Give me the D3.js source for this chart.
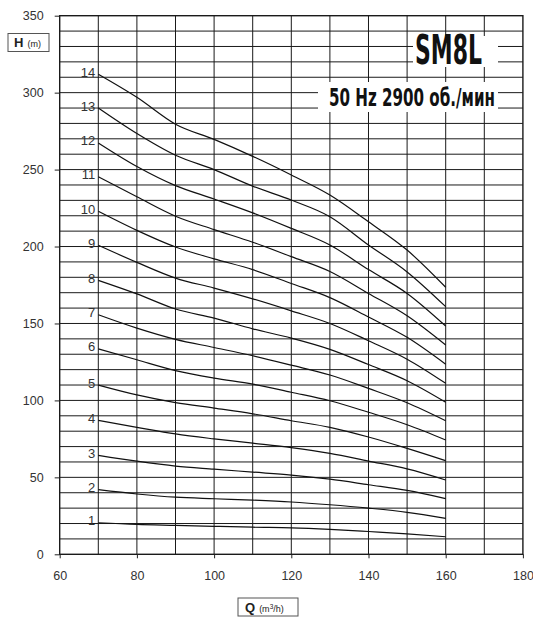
<!DOCTYPE html>
<html>
<head>
<meta charset="utf-8">
<script src="https://cdn.jsdelivr.net/npm/d3@7"></script>
<style>
  body { margin: 0; background: #fff; }
  .tick text { font-family: "Liberation Sans", Arial, sans-serif; font-size: 12.5px; fill: #333; }
  .tick line { stroke: #222; }
</style>
</head>
<body>
<div class="chart"></div>
<script>
// flow points (m3/h)
var flows = [70, 80, 90, 100, 110, 120, 130, 140, 150, 160];

// head (m) per number of stages
var stage1 = [20.5, 19.4, 18.8, 18.2, 17.6, 17.2, 16.2, 14.8, 13.3, 11.4];
var stage2 = [42, 39.2, 37.1, 36.1, 35.2, 34.0, 32.2, 30.0, 27.3, 23.4];
var stage3 = [64.3, 60.5, 57.3, 55.3, 53.4, 51.5, 48.8, 45.2, 41.5, 36.2];
var stage4 = [87, 82.5, 78.2, 75.0, 72.2, 69.3, 65.6, 60.6, 55.5, 48.3];
var stage5 = [110, 103.6, 98.6, 95.0, 91.3, 86.8, 82.5, 76.2, 68.8, 60.8];
var stage6 = [133.5, 126.4, 119.4, 114.5, 110.6, 105.3, 99.8, 92.3, 84.2, 74.3];
var stage7 = [155.7, 147, 139.7, 134.4, 129, 122.9, 116.5, 107.8, 98.5, 86.8];
var stage8 = [178, 169.2, 159.4, 153.5, 146.5, 140.5, 133.2, 123.3, 112.8, 98.8];
var stage9 = [200.8, 189.7, 179.5, 173, 166, 158.2, 150, 138.8, 126.8, 111.1];
var stage10 = [222.9, 210.5, 199.7, 192, 185, 176, 166.8, 154.2, 141, 123.5];
var stage11 = [245.3, 232.3, 219.7, 211, 202.8, 193.4, 183.8, 169.5, 155, 136];
var stage12 = [267.3, 252, 239.6, 230.9, 221.9, 211.8, 201, 185, 169.5, 148.3];
var stage13 = [290, 273.4, 259.3, 250, 239.2, 230.2, 219.4, 201, 183.5, 160.9];
var stage14 = [312, 297, 279.5, 269.6, 258.6, 246.5, 233.5, 216.1, 197.7, 173.5];

var curveLabels = ['1', '2', '3', '4', '5', '6', '7', '8', '9', '10', '11', '12', '13', '14'];
var curves = [stage1, stage2, stage3, stage4, stage5, stage6, stage7,
	stage8, stage9, stage10, stage11, stage12, stage13, stage14];

var xTicks = [60, 80, 100, 120, 140, 160, 180];
var yTicks = [0, 50, 100, 150, 200, 250, 300, 350];

// set up chart size
var svgWidth = 533;
var svgHeight = 621;

var margin = {
	top: 15.7,
	bottom: 66.7,
	right: 10.1,
	left: 59.7
};

var width = svgWidth - margin.left - margin.right;
var height = svgHeight - margin.top - margin.bottom;

var svg = d3
	.select('.chart')
	.append('svg')
	.attr('width', svgWidth)
	.attr('height', svgHeight)
	.style('font-family', '"Liberation Sans", Arial, sans-serif');

var chart = svg.append('g')
	.attr('transform', `translate(${margin.left}, ${margin.top})`);

// scales
var xScale = d3.scaleLinear().domain([60, 180]).range([0, width]);
var yScale = d3.scaleLinear().domain([0, 350]).range([height, 0]);

// grid every 10 units
chart.append('g')
	.selectAll('line')
	.data(d3.range(70, 180, 10))
	.enter()
	.append('line')
	.attr('x1', function(d) { return xScale(d); })
	.attr('x2', function(d) { return xScale(d); })
	.attr('y1', 0)
	.attr('y2', height)
	.attr('stroke', '#1a1a1a')
	.attr('stroke-width', 1);

chart.append('g')
	.selectAll('line')
	.data(d3.range(10, 350, 10))
	.enter()
	.append('line')
	.attr('x1', 0)
	.attr('x2', width)
	.attr('y1', function(d) { return yScale(d); })
	.attr('y2', function(d) { return yScale(d); })
	.attr('stroke', '#1a1a1a')
	.attr('stroke-width', 1);

// white boxes behind the titles
chart.append('rect')
	.attr('x', 413 - margin.left)
	.attr('y', 36 - margin.top)
	.attr('width', 85)
	.attr('height', 31)
	.attr('fill', '#fff');

chart.append('rect')
	.attr('x', 318 - margin.left)
	.attr('y', 82 - margin.top)
	.attr('width', 180)
	.attr('height', 30)
	.attr('fill', '#fff');

// frame
chart.append('rect')
	.attr('width', width)
	.attr('height', height)
	.attr('fill', 'none')
	.attr('stroke', '#1a1a1a')
	.attr('stroke-width', 1.4);

// axes
var bottomAxis = d3.axisBottom(xScale).tickValues(xTicks).tickSize(4).tickPadding(13);
var leftAxis = d3.axisLeft(yScale).tickValues(yTicks).tickSize(5).tickPadding(11);

chart.append('g')
	.attr('transform', `translate(0, ${height})`)
	.call(bottomAxis)
	.call(function(g) { g.select('.domain').remove(); });

chart.append('g')
	.call(leftAxis)
	.call(function(g) { g.select('.domain').remove(); });

// performance curves
var line = d3.line()
	.x(function(d, i) { return xScale(flows[i]); })
	.y(function(d) { return yScale(d); })
	.curve(d3.curveMonotoneX);

chart.append('g')
	.selectAll('path')
	.data(curves)
	.enter()
	.append('path')
	.attr('d', line)
	.attr('fill', 'none')
	.attr('stroke', '#111')
	.attr('stroke-width', 1.2);

// stage numbers at the start of each curve
chart.append('g')
	.selectAll('text')
	.data(curves)
	.enter()
	.append('text')
	.attr('x', xScale(flows[0]) - 3)
	.attr('y', function(d) { return yScale(d[0]) + 2.5; })
	.attr('text-anchor', 'end')
	.style('font-size', '13px')
	.attr('fill', '#333')
	.text(function(d, i) { return curveLabels[i]; });

// condensed bold titles: squeeze horizontally to the measured width
function squeezedTitle(txt, x, y, size, targetWidth) {
	var t = svg.append('text')
		.style('font-family', '"DejaVu Sans", sans-serif')
		.style('font-weight', 'bold')
		.style('font-size', size + 'px')
		.attr('fill', '#111')
		.text(txt);
	var w = t.node().getComputedTextLength();
	t.attr('transform', `translate(${x}, ${y}) scale(${targetWidth / w}, 1)`);
	return t;
}

squeezedTitle('SM8L', 415, 63.5, 40, 67);
squeezedTitle('50 Hz 2900 об./мин', 329, 106, 25.5, 166);

// H (m) box
svg.append('rect')
	.attr('x', 8)
	.attr('y', 33.5)
	.attr('width', 41)
	.attr('height', 18)
	.attr('fill', '#fff')
	.attr('stroke', '#555')
	.attr('stroke-width', 1);

var hLabel = svg.append('text')
	.attr('x', 14)
	.attr('y', 47)
	.attr('fill', '#222');
hLabel.append('tspan').style('font-weight', 'bold').style('font-size', '13px').text('H');
hLabel.append('tspan').attr('dx', 4).style('font-size', '9px').text('(m)');

// Q (m3/h) box
svg.append('rect')
	.attr('x', 238)
	.attr('y', 598)
	.attr('width', 60)
	.attr('height', 18)
	.attr('fill', '#fff')
	.attr('stroke', '#555')
	.attr('stroke-width', 1);

var qLabel = svg.append('text')
	.attr('x', 245)
	.attr('y', 611.5)
	.attr('fill', '#222');
qLabel.append('tspan').style('font-weight', 'bold').style('font-size', '13px').text('Q');
qLabel.append('tspan').attr('dx', 4).style('font-size', '9px').text('(m');
qLabel.append('tspan').attr('dy', -3).style('font-size', '6.5px').text('3');
qLabel.append('tspan').attr('dy', 3).style('font-size', '9px').text('/h)');
</script>
</body>
</html>
